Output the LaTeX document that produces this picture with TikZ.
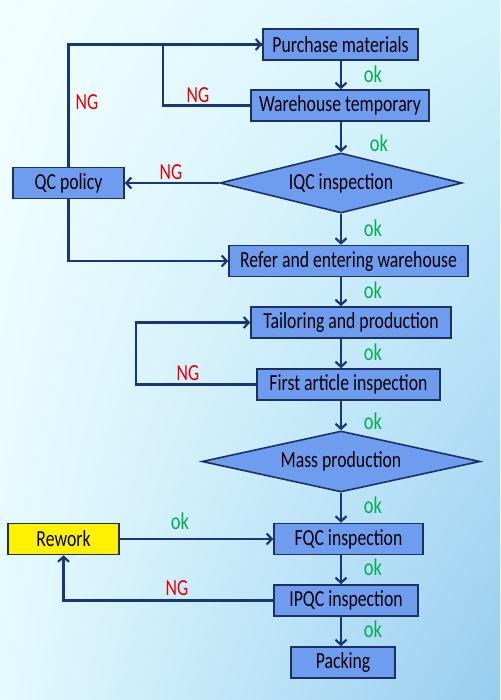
\documentclass[tikz,border=0pt]{standalone}
\usepackage{fontspec}
\setmainfont{Carlito}[FakeStretch=0.77]
\usepackage{tikz}
\usepackage{xcolor}
\usetikzlibrary{shapes.geometric, arrows.meta, shadings}

\definecolor{boxblue}{RGB}{110,157,240}
\definecolor{edgeblue}{RGB}{28,48,98}
\definecolor{lineblue}{RGB}{25,55,120}
\definecolor{okgreen}{RGB}{0,176,80}
\definecolor{ngred}{RGB}{230,0,0}
\definecolor{bgtl}{RGB}{242,255,255}
\definecolor{bgtr}{RGB}{212,243,252}
\definecolor{bgbl}{RGB}{228,250,255}
\definecolor{bgbr}{RGB}{150,205,240}

\tikzset{
  stepbox/.style={draw=edgeblue, fill=boxblue, line width=1.6pt, inner sep=0pt,
    minimum height=31pt, font=\fontsize{23}{25}\selectfont},
  checkbox/.style={diamond, draw=edgeblue, fill=boxblue, line width=1.6pt, inner sep=0pt,
    aspect=4, font=\fontsize{23}{25}\selectfont},
  flow/.style={draw=lineblue, line width=2.2pt, -{Straight Barb[length=5pt,width=11pt]}},
  plainflow/.style={draw=lineblue, line width=2.2pt},
  oklabel/.style={text=okgreen, font=\fontsize{24}{26}\selectfont},
  nglabel/.style={text=ngred, font=\fontsize{23}{25}\selectfont}
}

\begin{document}
\begin{tikzpicture}[x=1pt, y=-1pt]
        % Background
        \shade[upper left=bgtl, upper right=bgtr, lower left=bgbl, lower right=bgbr]
            (0,0) rectangle (500,700);
        \useasboundingbox (0,0) rectangle (500,700);
        \coordinate (spine) at (341,0);

        % Steps
        \node[stepbox, minimum width=155pt] (pm) at (340.5,44.5) {Purchase materials};
        \node[stepbox, minimum width=178pt] (wt) at (340,105.5) {Warehouse temporary};
        \node[checkbox, minimum width=242pt, minimum height=60pt] (iqc) at (341,183) {IQC inspection};
        \node[stepbox, minimum width=111pt] (qc) at (68.5,183) {QC policy};
        \node[stepbox, minimum width=239pt] (ref) at (348.5,261) {Refer and entering warehouse};
        \node[stepbox, minimum width=200pt] (tail) at (351,322.5) {Tailoring and production};
        \node[stepbox, minimum width=183pt] (fai) at (348.5,384.5) {First article inspection};
        \node[checkbox, minimum width=278pt, minimum height=61pt] (mass) at (341,461.5) {Mass production};
        \node[stepbox, minimum width=149pt] (fqc) at (348.5,539) {FQC inspection};
        \node[stepbox, minimum width=111pt, fill=yellow] (rework) at (63.5,539) {Rework};
        \node[stepbox, minimum width=144pt] (ipqc) at (346,600.5) {IPQC inspection};
        \node[stepbox, minimum width=104pt] (pack) at (343,662.5) {Packing};

        % Main line
        \draw[flow] (pm.south -| spine) -- (wt.north -| spine);
        \draw[flow] (wt.south -| spine) -- (iqc.north);
        \draw[flow] (iqc.south) -- (ref.north -| spine);
        \draw[flow] (ref.south -| spine) -- (tail.north -| spine);
        \draw[flow] (tail.south -| spine) -- (fai.north -| spine);
        \draw[flow] (fai.south -| spine) -- (mass.north);
        \draw[flow] (mass.south) -- (fqc.north -| spine);
        \draw[flow] (fqc.south -| spine) -- (ipqc.north -| spine);
        \draw[flow] (ipqc.south -| spine) -- (pack.north -| spine);

        % Side loops
        \coordinate (wtbend) at (163,105.5);
        \coordinate (faibend) at (136,384.5);
        \draw[flow] (iqc.west) -- (qc.east);
        \draw[flow] (qc.north) |- (pm.west);
        \draw[plainflow] (wt.west) -- (wtbend) |- (pm.west);
        \draw[flow] (qc.south) |- (ref.west);
        \draw[flow] (fai.west) -- (faibend) |- (tail.west);
        \draw[flow] (rework.east) -- (fqc.west);
        \draw[flow] (ipqc.west) -| (rework.south);

        % Labels
        \node[oklabel] (ok1) at (373,74) {ok};
        \node[oklabel] (ok2) at (379,143) {ok};
        \node[oklabel] (ok3) at (373,228) {ok};
        \node[oklabel] (ok4) at (373,290) {ok};
        \node[oklabel] (ok5) at (373,352) {ok};
        \node[oklabel] (ok6) at (373,421) {ok};
        \node[oklabel] (ok7) at (373,505) {ok};
        \node[oklabel] (ok8) at (180,521) {ok};
        \node[oklabel] (ok9) at (373,567) {ok};
        \node[oklabel] (ok10) at (373,629) {ok};
        \node[nglabel] (ng1) at (87,102) {NG};
        \node[nglabel] (ng2) at (198,95) {NG};
        \node[nglabel] (ng3) at (171,172) {NG};
        \node[nglabel] (ng4) at (188,373) {NG};
        \node[nglabel] (ng5) at (177,588) {NG};
    \end{tikzpicture}
\end{document}
